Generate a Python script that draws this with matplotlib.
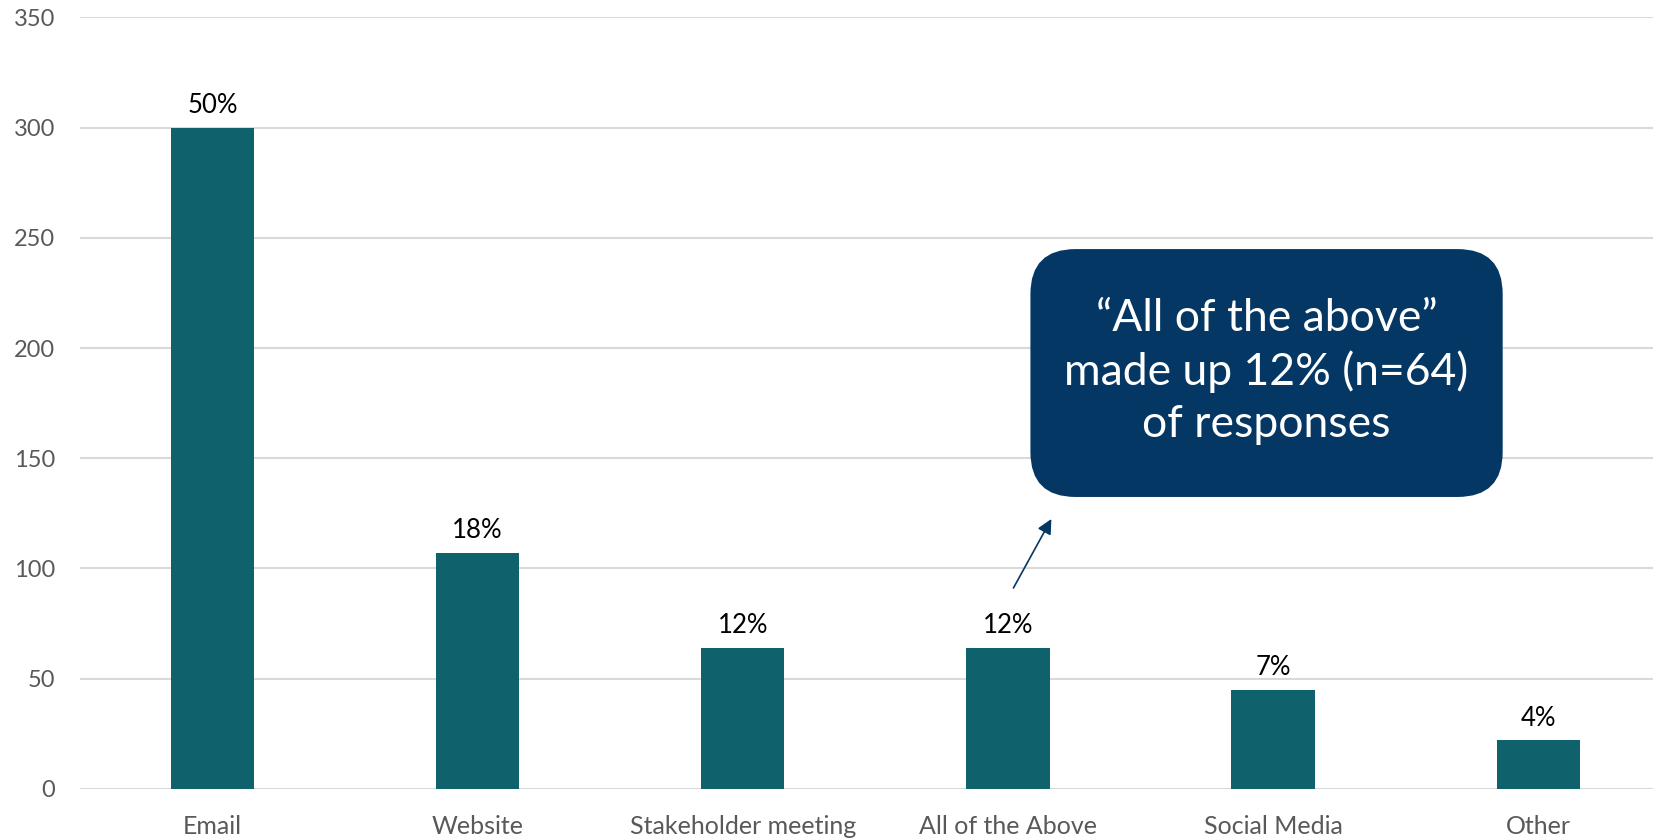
import matplotlib
matplotlib.use("Agg")
from matplotlib import pyplot as plt
from matplotlib.patches import FancyBboxPatch

plt.rcParams["font.family"] = ["Lato", "DejaVu Sans"]

categories = ["Email", "Website", "Stakeholder meeting", "All of the Above", "Social Media", "Other"]
counts = [300, 107, 64, 64, 45, 22]
pct_labels = ["50%", "18%", "12%", "12%", "7%", "4%"]
y_ticks = [0, 50, 100, 150, 200, 250, 300, 350]

bar_color = "#0f616b"
navy = "#043763"
grey = "#595959"

fig = plt.figure(figsize=(16.53, 8.38), dpi=100)
# plot area runs past the right edge of the picture, like the original
ax = fig.add_axes([79.8 / 1653, (838 - 788.7) / 838, 1591 / 1653, 771.2 / 838])

x = list(range(len(categories)))
bars = ax.bar(x, counts, width=0.314, color=bar_color, zorder=3)

for b, lab in zip(bars, pct_labels):
    ax.annotate(lab, (b.get_x() + b.get_width() / 2, b.get_height()),
                xytext=(0, 7), textcoords="offset points",
                ha="center", va="bottom", fontsize=18.5, color="black")

ax.set_xlim(-0.5, len(categories) - 0.5)
ax.set_ylim(0, 350)
ax.set_yticks(y_ticks)
ax.set_xticks(x)
ax.set_xticklabels(categories)
ax.tick_params(axis="both", length=0, labelsize=17, labelcolor=grey)
ax.tick_params(axis="x", pad=19, labelsize=18)
ax.tick_params(axis="y", pad=18)
ax.grid(axis="y", color="#d9d9d9", linewidth=1.5, zorder=0)
for s in ax.spines.values():
    s.set_visible(False)

# callout box
box = FancyBboxPatch((3.085, 132.4), 4.866 - 3.085, 244.9 - 132.4,
                     boxstyle="round,pad=0,rounding_size=0.17",
                     mutation_aspect=120, facecolor=navy, edgecolor="none",
                     zorder=5, clip_on=False)
ax.add_patch(box)
ax.text((3.085 + 4.866) / 2, 189.5,
        "\u201cAll of the above\u201d\nmade up 12% (n=64)\nof responses",
        ha="center", va="center", color="white", fontsize=32,
        linespacing=1.33, zorder=6)

ax.annotate("", xy=(3.164, 122.4), xytext=(3.021, 91.1),
            arrowprops=dict(arrowstyle="-|>", color=navy, lw=1.2,
                            mutation_scale=22, shrinkA=0, shrinkB=0),
            zorder=6)

fig.savefig("out.png", dpi=100)
